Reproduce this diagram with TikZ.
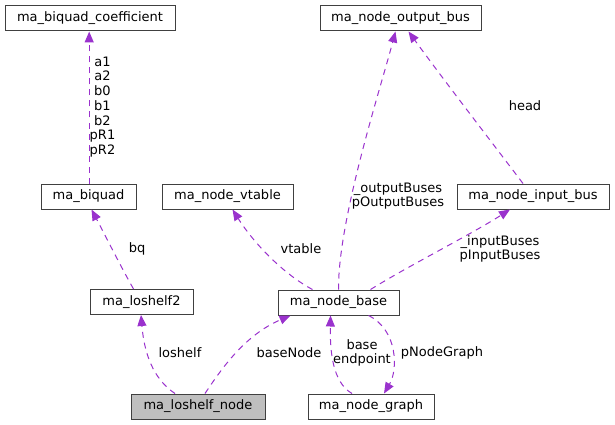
\documentclass[tikz,border=0pt]{standalone}
\usepackage{fontspec}
\setmainfont{DejaVu Sans}
\usetikzlibrary{arrows.meta,positioning}

\definecolor{edgecol}{HTML}{9A32CD}
\definecolor{boxline}{HTML}{404040}

\begin{document}
\begin{tikzpicture}[x=1pt,y=-1pt,
    box/.style={draw=boxline,line width=1pt,minimum height=25pt,inner sep=0pt,font=\fontsize{13}{14.7}\selectfont},
    rel/.style={draw=edgecol,line width=1pt,dash pattern=on 6pt off 5pt,-{Triangle[length=11pt,width=9pt,fill=edgecol]}},
    lbl/.style={font=\fontsize{13}{14.7}\selectfont,align=center,inner sep=0pt}]
\useasboundingbox (0,0) rectangle (615,425);

% classes
\node[box,minimum width=170pt] (coef) at (90,18.5) {ma\_biquad\_coefficient};
\node[box,minimum width=161pt] (outbus) at (400.5,18.5) {ma\_node\_output\_bus};
\node[box,minimum width=95pt] (biquad) at (88.5,196.5) {ma\_biquad};
\node[box,minimum width=131pt] (vtable) at (227.5,196.5) {ma\_node\_vtable};
\node[box,minimum width=152pt] (inbus) at (533,196.5) {ma\_node\_input\_bus};
\node[box,minimum width=103pt] (loshelftwo) at (141.5,302) {ma\_loshelf2};
\node[box,minimum width=121pt] (base) at (338.5,302.5) {ma\_node\_base};
\node[box,minimum width=134pt,fill=black!25] (loshelfnode) at (198,406.5) {ma\_loshelf\_node};
\node[box,minimum width=126pt] (graph) at (371,406.5) {ma\_node\_graph};

% relations
\draw[rel,line width=1.2pt] ([xshift=0.7pt]biquad.north) -- ([xshift=-0.8pt]coef.south);
\node[lbl] (coeflbl) at (102.5,107) {a1\\a2\\b0\\b1\\b2\\pR1\\pR2};

\draw[rel] ([xshift=-8pt]loshelftwo.north) .. controls (120,265) and (105,235) .. ([xshift=3pt]biquad.south);
\node[lbl] (bqlbl) at (137,249) {bq};

\draw[rel] ([xshift=-23pt]loshelfnode.north) .. controls (158,382) and (145,362) .. ([xshift=-0.5pt]loshelftwo.south);
\node[lbl] (loshelflbl) at (180,353) {loshelf};

\draw[rel] ([xshift=7pt]loshelfnode.north) .. controls (222,368) and (245,335) .. ([xshift=-48pt]base.south);
\node[lbl] (baselbl) at (289,353) {baseNode};

\draw[rel] ([xshift=-26pt]base.north) .. controls (285,275) and (255,245) .. ([xshift=5pt]vtable.south);
\node[lbl] (vtablelbl) at (301,249) {vtable};

\draw[rel] (base.north) .. controls (338,220) and (380,90) .. ([xshift=-5pt]outbus.south);
\node[lbl] (outlbl) at (398,196) {\_outputBuses\\pOutputBuses};

\draw[rel] ([xshift=32pt]base.north) .. controls (410,265) and (470,235) .. ([xshift=-23pt]inbus.south);
\node[lbl] (inlbl) at (500,249) {\_inputBuses\\pInputBuses};

\draw[rel] ([xshift=-10pt]inbus.north) .. controls (490,140) and (440,75) .. ([xshift=8pt]outbus.south);
\node[lbl] (headlbl) at (525,106) {head};

\draw[rel] ([xshift=-19pt]graph.north) .. controls (332,382) and (330,350) .. ([xshift=-8pt]base.south);
\node[lbl] (endlbl) at (362,353) {base\\endpoint};

\draw[rel] ([xshift=30pt]base.south) .. controls (398,330) and (398,370) .. ([xshift=13pt]graph.north);
\node[lbl] (graphlbl) at (442,353) {pNodeGraph};
\end{tikzpicture}
\end{document}
